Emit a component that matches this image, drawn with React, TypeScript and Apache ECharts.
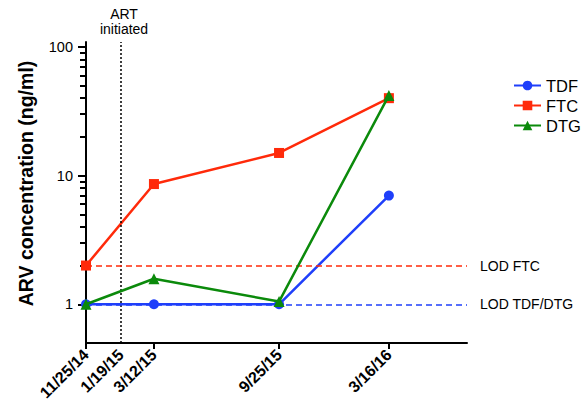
import React, { useEffect, useRef } from "react";
import * as echarts from "echarts";

// ---- data ----
const sampleDates: [number, number, number][] = [
  [2014, 11, 25],
  [2015, 3, 12],
  [2015, 9, 25],
  [2016, 3, 16],
];
const artDate: [number, number, number] = [2015, 1, 19];
const seriesNames = ["TDF", "FTC", "DTG"];
const tdfValues = [1, 1, 1, 7];
const ftcValues = [2, 8.6, 15, 40];
const dtgValues = [1, 1.58, 1.05, 42];
const lodFTC = 2;
const lodTDFDTG = 1;
const lodLabels = ["LOD FTC", "LOD TDF/DTG"];
const yMajorTicks = [1, 10, 100];
const yMinorTicks = [2, 3, 4, 5, 6, 7, 8, 9, 20, 30, 40, 50, 60, 70, 80, 90];
const yTitle = "ARV concentration (ng/ml)";
const artLabel = "ART\ninitiated";

const FONT = "Liberation Sans, Arial, Helvetica, sans-serif";
const DAY = 86400000;
const origin: [number, number, number] = [2014, 11, 25];
const toUTC = (d: [number, number, number]) => Date.UTC(d[0], d[1] - 1, d[2]);
// days elapsed since the first sample (x value)
const toDay = (d: [number, number, number]) => Math.round((toUTC(d) - toUTC(origin)) / DAY);
const fmtDay = (v: number) => {
  const d = new Date(toUTC(origin) + Math.round(v) * DAY);
  return `${d.getUTCMonth() + 1}/${d.getUTCDate()}/${String(d.getUTCFullYear()).slice(2)}`;
};

export default function App() {
  const ref = useRef<HTMLDivElement>(null);
  useEffect(() => {
    document.body.style.margin = "0";
    if (!ref.current) return;
    const chart = echarts.init(ref.current, null, { renderer: "svg" });
    const days = sampleDates.map(toDay);
    const artDay = toDay(artDate);
    const xMin = 0;
    const xMax = toDay([2016, 7, 17]);
    const yMin = 0.5;
    const yMax = 109.3;
    const mk = (vals: number[]) => days.map((t, i) => [t, vals[i]]);
    const colors = ["#1f3ffa", "#ff2a0a", "#0b8a0b"];
    const symbols = ["circle", "rect", "triangle"];
    const sizes = [10, 10, 11];
    const values = [tdfValues, ftcValues, dtgValues];

    const series: any[] = seriesNames.map((name, i) => ({
      name,
      type: "line",
      data: mk(values[i]),
      symbol: symbols[i],
      symbolSize: sizes[i],
      clip: false,
      lineStyle: { color: colors[i], width: 2.5 },
      itemStyle: { color: colors[i] },
      z: 3 + i,
    }));
    series[0].markLine = {
      silent: true,
      symbol: "none",
      animation: false,
      data: [
        {
          xAxis: artDay,
          lineStyle: { color: "#000", type: [2, 2], width: 1.5 },
          label: { show: false },
        },
        {
          yAxis: lodTDFDTG,
          lineStyle: { color: colors[0], type: [6, 4], width: 1.5 },
          label: {
            show: true,
            position: "end",
            formatter: lodLabels[1],
            color: "#000",
            fontSize: 14,
            fontFamily: FONT,
            distance: 13,
          },
        },
      ],
    };
    series[1].markLine = {
      silent: true,
      symbol: "none",
      animation: false,
      data: [
        {
          yAxis: lodFTC,
          lineStyle: { color: colors[1], type: [6, 4], width: 1.5 },
          label: {
            show: true,
            position: "end",
            formatter: lodLabels[0],
            color: "#000",
            fontSize: 14,
            fontFamily: FONT,
            distance: 13,
          },
        },
      ],
    };

    chart.setOption({
      animation: false,
      textStyle: { fontFamily: FONT },
      grid: { left: 86, right: 115, top: 42, bottom: 69, containLabel: false },
      legend: {
        orient: "vertical",
        left: 508,
        top: 72,
        itemWidth: 27,
        itemHeight: 12,
        itemGap: 3,
        textStyle: { fontSize: 16.5, color: "#000", fontFamily: FONT, lineHeight: 17 },
        data: seriesNames,
      },
      xAxis: {
        type: "value",
        min: xMin,
        max: xMax,
        splitLine: { show: false },
        axisLine: { lineStyle: { color: "#000", width: 2 } },
        axisTick: {
          show: true,
          length: 6,
          lineStyle: { color: "#000", width: 2 },
          customValues: days,
        },
        axisLabel: {
          rotate: 45,
          fontSize: 16,
          fontWeight: "bold",
          color: "#000",
          fontFamily: FONT,
          margin: 9,
          customValues: [days[0], artDay, ...days.slice(1)],
          formatter: (v: number) => fmtDay(v),
        },
      },
      yAxis: [
        {
          type: "log",
          logBase: 10,
          min: yMin,
          max: yMax,
          splitLine: { show: false },
          axisLine: { show: true, lineStyle: { color: "#000", width: 2 } },
          axisTick: {
            show: true,
            length: 8,
            lineStyle: { color: "#000", width: 2 },
            customValues: yMajorTicks,
          },
          axisLabel: {
            fontSize: 14.5,
            color: "#000",
            fontFamily: FONT,
            margin: 13,
            customValues: yMajorTicks,
            formatter: (v: number) => String(Math.round(v)),
          },
        },
        {
          type: "log",
          logBase: 10,
          min: yMin,
          max: yMax,
          position: "left",
          splitLine: { show: false },
          axisLine: { show: false },
          axisTick: {
            show: true,
            length: 6,
            lineStyle: { color: "#000", width: 2 },
            customValues: yMinorTicks,
          },
          axisLabel: { show: false },
        },
      ],
      graphic: [
        {
          type: "text",
          x: 26,
          y: 183.5,
          rotation: Math.PI / 2,
          style: {
            text: yTitle,
            fontSize: 19.5,
            fontWeight: "bold",
            fontFamily: FONT,
            fill: "#000",
            align: "center",
            verticalAlign: "middle",
          },
        },
        {
          type: "text",
          x: 124,
          y: 21,
          style: {
            text: artLabel,
            fontSize: 14,
            lineHeight: 15,
            fontFamily: FONT,
            fill: "#000",
            align: "center",
            verticalAlign: "middle",
          },
        },
      ],
      series,
    });
    return () => chart.dispose();
  }, []);
  return <div ref={ref} style={{ width: 582, height: 412 }} />;
}
